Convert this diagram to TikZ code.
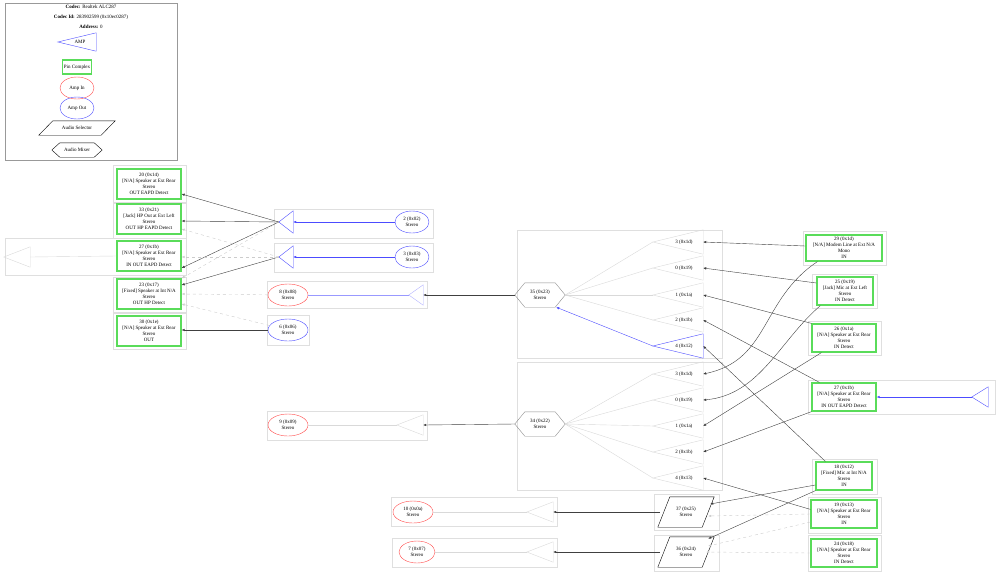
\documentclass[tikz,border=0pt]{standalone}
\usepackage{fontspec}
\setmainfont{Liberation Serif}
\usepackage{tikz}
\usetikzlibrary{shapes.geometric,arrows.meta,calc}
\def\mclus{gray!25}
\definecolor{pingreen}{RGB}{90,220,90}
\def\mpin{pingreen}
\def\mampin{red!70}
\def\mampout{blue!70}
\tikzset{
  every node/.style={font=\fontsize{5}{6}\selectfont, align=center, inner sep=1pt},
  clus/.style={draw=\mclus, line width=0.6pt},
  pinbox/.style={rectangle, draw=\mpin, line width=1.3pt, inner sep=1.5pt},
  ampin/.style={ellipse, draw=\mampin, minimum width=#1, minimum height=22},
  ampout/.style={ellipse, draw=\mampout, minimum width=#1, minimum height=22},
  free/.style={minimum width=#1, inner sep=0pt},
  lnk/.style={draw=black!75, -{Latex[length=3pt,width=2.5pt]}},
  blnk/.style={draw=blue!70, -{Latex[length=3pt,width=2.5pt]}},
  dlnk/.style={draw=gray!40, dashed, -{Latex[length=3pt,width=2.5pt]}},
  glnk/.style={draw=gray!30},
}
% name, x, y, width, height, colour, text
\newcommand\ampnode[7]{%
  \node[free=#4, minimum height=#5] (#1) at (#2,#3) {#7};
  \draw[#6] (#1.west) -- (#1.north east) -- (#1.south east) -- cycle;}
% name of a selector node, slant
\newcommand\selshape[2]{%
  \draw ($(#1.south west)+(-#2,0)$) -- ($(#1.south east)+(-#2,0)$) -- ($(#1.north east)+(#2,0)$) -- ($(#1.north west)+(#2,0)$) -- cycle;}
\begin{document}
\begin{tikzpicture}[x=1pt, y=-1pt]
  \useasboundingbox (0,0) rectangle (1000,576);
  % legend
  \draw[gray!80] (5,3) rectangle (177,160);
  \node (lg1) at (91,7) {\textbf{Codec:} Realtek ALC287};
  \node (lg2) at (91,17) {\textbf{Codec Id:} 283902599 (0x10ec0287)};
  \node (lg3) at (91,27) {\textbf{Address:} 0};
  \ampnode{lgamp}{77}{42}{38}{18}{blue!70}{\hspace*{6pt}AMP};
  \node[pinbox, minimum height=14] (lgpin) at (77,67) {Pin Complex};
  \node[ampin=34] (lgin) at (77,88) {Amp In};
  \node[ampout=34] (lgout) at (77,108) {Amp Out};
  \node[free=62, minimum height=14] (lgsel) at (77,128) {Audio Selector};
  \selshape{lgsel}{7}
  \node[free=40, minimum height=14] (lgmix) at (77,150) {Audio Mixer};
  \draw ($(lgmix.west)+(-5,0)$) -- ($(lgmix.north west)+(3,0)$) -- ($(lgmix.north east)+(-3,0)$)
    -- ($(lgmix.east)+(5,0)$) -- ($(lgmix.south east)+(-3,0)$) -- ($(lgmix.south west)+(3,0)$) -- cycle;

  % clusters
  \foreach \xa/\ya/\xb/\yb in {113/165/186/203, 113/202/186/238, 5/238/186/275, 113/277/186/312, 113/313/186/349,
      274/209/433/238, 274/243/433/272, 267/281/427/308, 267/315/309/345, 267/411/427/440,
      517/230/722/358, 517/362/722/490, 803/231/886/265, 812/274/877/308, 808/321/881/355, 808/380/995/414,
      812/459/877/494, 808/497/881/533, 808/535/881/571, 654/494/719/530, 654/535/719/571,
      391/497/557/526, 392/538/557/567}
    \draw[clus] (\xa,\ya) rectangle (\xb,\yb);

  % left pins
  \node[pinbox, minimum width=64, minimum height=30] (p20) at (149,184) {20 (0x14)\\{}[N/A] Speaker at Ext Rear\\ Stereo\\ OUT EAPD Detect};
  \node[pinbox, minimum width=64, minimum height=30] (p33) at (149,219) {33 (0x21)\\{}[Jack] HP Out at Ext Left\\ Stereo\\ OUT HP EAPD Detect};
  \node[pinbox, minimum width=64, minimum height=30] (p27a) at (149,256) {27 (0x1b)\\{}[N/A] Speaker at Ext Rear\\ Stereo\\ IN OUT EAPD Detect};
  \node[pinbox, minimum width=64, minimum height=30] (p23) at (149,294) {23 (0x17)\\{}[Fixed] Speaker at Int N/A\\ Stereo\\ OUT HP Detect};
  \node[pinbox, minimum width=64, minimum height=30] (p30) at (149,331) {30 (0x1e)\\{}[N/A] Speaker at Ext Rear\\ Stereo\\ OUT};
  \ampnode{t27a}{17}{257}{26}{20}{gray!30}{};

  % outputs
  \ampnode{t2}{286}{222}{14}{22}{blue!70}{};
  \ampnode{t3}{286}{257}{14}{22}{blue!70}{};
  \node[ampout=34] (o2) at (412,222) {2 (0x02)\\ Stereo};
  \node[ampout=34] (o3) at (412,257) {3 (0x03)\\ Stereo};
  \node[ampout=40] (o6) at (288,330) {6 (0x06)\\ Stereo};
  \node[ampin=40] (i8) at (288,295) {8 (0x08)\\ Stereo};
  \node[ampin=40] (i9) at (288,425) {9 (0x09)\\ Stereo};
  \node[ampin=40] (i10) at (413,512) {10 (0x0a)\\ Stereo};
  \node[ampin=36] (i7) at (417,552) {7 (0x07)\\ Stereo};
  \ampnode{t8}{416}{295}{14}{20}{blue!30}{};
  \ampnode{t9}{410}{425}{26}{20}{gray!30}{};
  \ampnode{t10}{540}{512}{26}{20}{gray!30}{};
  \ampnode{t7}{540}{552}{26}{20}{gray!30}{};

  \draw[blnk] (o2) -- (t2.east);
  \draw[blnk] (o3) -- (t3.east);
  \draw[draw=blue!40] (t8.west) -- (i8);
  \draw[glnk] (t9.west) -- (i9);
  \draw[glnk] (t10.west) -- (i10);
  \draw[glnk] (t7.west) -- (i7);
  \draw[glnk] (t27a.east) -- (p27a.west);
  \draw[lnk] (t2.west) -- (p20.east |- 0,194);
  \draw[lnk] (t2.west) -- (p33.east |- 0,221);
  \draw[lnk] (t2.west) -- (p27a.east |- 0,268);
  \draw[dlnk] (t2.west) -- (p23.north east);
  \draw[lnk] (t3.west) -- (p23.east |- 0,285);
  \draw[dlnk] (t3.west) -- (p33.east |- 0,229);
  \draw[dlnk] (t3.west) -- (p27a.east |- 0,257);
  \draw[dlnk] (i8) -- (p23.east |- 0,294);
  \draw[dlnk] (o6) -- (p23.east |- 0,304);
  \draw[lnk] (o6) -- (p30.east |- 0,330);

  % mixers
  \node[free=40, minimum height=24] (m35) at (540,295) {35 (0x23)\\ Stereo};
  \node[free=40, minimum height=24] (m34) at (540,424) {34 (0x22)\\ Stereo};
  \foreach \m in {m35, m34}
    \draw[gray!90] ($(\m.west)+(-5,0)$) -- ($(\m.north west)+(5,0)$) -- ($(\m.north east)+(-5,0)$)
      -- ($(\m.east)+(5,0)$) -- ($(\m.south east)+(-5,0)$) -- ($(\m.south west)+(5,0)$) -- cycle;
  \ampnode{x35a}{678}{242}{50}{24}{gray!30}{\hspace*{12pt}3 (0x1d)};
  \ampnode{x35b}{678}{268}{50}{24}{gray!30}{\hspace*{12pt}0 (0x19)};
  \ampnode{x35c}{678}{295}{50}{24}{gray!30}{\hspace*{12pt}1 (0x1a)};
  \ampnode{x35d}{678}{320}{50}{24}{gray!30}{\hspace*{12pt}2 (0x1b)};
  \ampnode{x35e}{678}{346}{50}{24}{blue!70}{\hspace*{12pt}4 (0x12)};
  \ampnode{x34a}{678}{374}{50}{24}{gray!30}{\hspace*{12pt}3 (0x1d)};
  \ampnode{x34b}{678}{400}{50}{24}{gray!30}{\hspace*{12pt}0 (0x19)};
  \ampnode{x34c}{678}{426}{50}{24}{gray!30}{\hspace*{12pt}1 (0x1a)};
  \ampnode{x34d}{678}{452}{50}{24}{gray!30}{\hspace*{12pt}2 (0x1b)};
  \ampnode{x34e}{678}{478}{50}{24}{gray!30}{\hspace*{12pt}4 (0x13)};
  \foreach \s in {a,b,c,d}
    \draw[glnk] ($(m35.east)+(5,0)$) -- (x35\s.west);
  \draw[blnk] (x35e.west) -- ($(m35.south east)+(-4,0)$);
  \foreach \s in {a,b,c,d,e}
    \draw[glnk] ($(m34.east)+(5,0)$) -- (x34\s.west);
  \draw[lnk] ($(m35.west)+(-5,0)$) -- (t8.east);
  \draw[lnk] ($(m34.west)+(-5,0)$) -- (t9.east);

  % right pins
  \node[pinbox, minimum width=76, minimum height=26] (p29) at (844,248) {29 (0x1d)\\{}[N/A] Modem Line at Ext N/A\\ Mono\\ IN};
  \node[pinbox, minimum width=56, minimum height=28] (p25) at (845,291) {25 (0x19)\\{}[Jack] Mic at Ext Left\\ Stereo\\ IN Detect};
  \node[pinbox, minimum width=64, minimum height=28] (p26) at (844,338) {26 (0x1a)\\{}[N/A] Speaker at Ext Rear\\ Stereo\\ IN Detect};
  \node[pinbox, minimum width=64, minimum height=28] (p27b) at (844,397) {27 (0x1b)\\{}[N/A] Speaker at Ext Rear\\ Stereo\\ IN OUT EAPD Detect};
  \node[pinbox, minimum width=56, minimum height=28] (p18) at (844,476) {18 (0x12)\\{}[Fixed] Mic at Int N/A\\ Stereo\\ IN};
  \node[pinbox, minimum width=66, minimum height=28] (p19) at (844,514) {19 (0x13)\\{}[N/A] Speaker at Ext Rear\\ Stereo\\ IN};
  \node[pinbox, minimum width=66, minimum height=28] (p24) at (844,553) {24 (0x18)\\{}[N/A] Speaker at Ext Rear\\ Stereo\\ IN Detect};
  \ampnode{t27b}{980}{397}{16}{20}{blue!70}{};
  \draw[blnk] (t27b.west) -- (p27b.east);

  \draw[lnk] (p29.west |- 0,246) -- (x35a.east);
  \draw[lnk] (p29.south west) ++(12,0) .. controls (760,300) and (770,360) .. (x34a.east);
  \draw[lnk] (p25.west |- 0,283) -- (x35b.east);
  \draw[lnk] (p25.south west) ++(4,0) .. controls (780,340) and (760,395) .. (x34b.east);
  \draw[lnk] (p26.north west) -- (x35c.east);
  \draw[lnk] (p26.south west) ++(10,0) -- (x34c.east);
  \draw[lnk] (p27b.north west) ++(8,0) -- (x35d.east);
  \draw[lnk] (p27b.south west) -- (x34d.east);
  \draw[lnk] (p18.north west) ++(10,0) -- (x35e.east);
  \draw[lnk] (p19.north west) ++(0,10) -- (x34e.east);

  % selectors
  \node[free=44, minimum height=30] (s37) at (686,512) {37 (0x25)\\ Stereo};
  \node[free=44, minimum height=30] (s36) at (686,552) {36 (0x24)\\ Stereo};
  \selshape{s37}{6}
  \selshape{s36}{6}
  \draw[lnk] ($(s37.west)+(-4,0)$) -- (t10.east);
  \draw[lnk] ($(s36.west)+(-4,0)$) -- (t7.east);
  \draw[lnk] (p18.west |- 0,485) -- ($(s37.east)+(2,-8)$);
  \draw[lnk] (p18.south west) -- ($(s36.north east)+(0,2)$);
  \draw[dlnk] (p19.west) -- ($(s37.east)+(0,4)$);
  \draw[dlnk] (p19.west |- 0,522) -- ($(s36.east)+(0,-6)$);
  \draw[dlnk] (p24.west) -- ($(s36.east)+(-2,0)$);
\end{tikzpicture}
\end{document}
